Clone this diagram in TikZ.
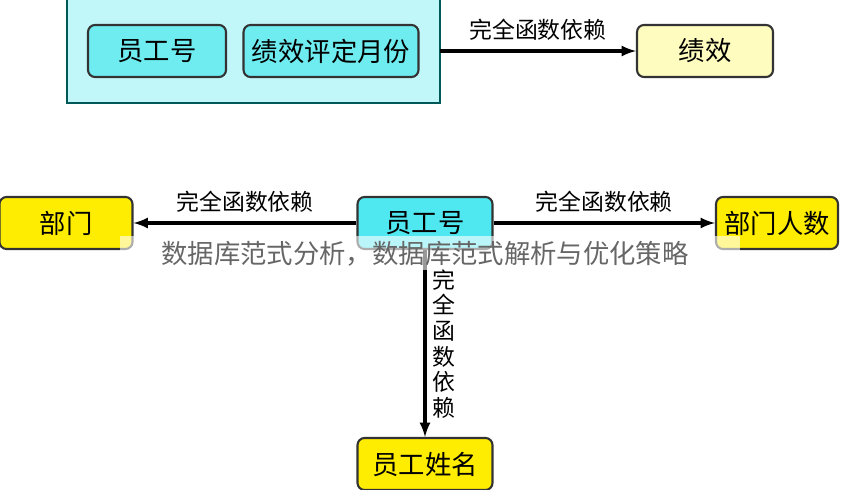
\documentclass[tikz,border=0pt]{standalone}
\usepackage{fontspec}
\setmainfont{Noto Sans CJK SC}
\usetikzlibrary{positioning}
\definecolor{keycyan}{RGB}{80,232,240}
\definecolor{keylight}{RGB}{110,236,240}

\begin{document}
\begin{tikzpicture}[x=0.02cm,y=-0.02cm,
  attrbox/.style={draw=black!80,line width=1.2pt,rounded corners=4pt,
    minimum height=1.04cm,inner sep=2pt,font=\fontsize{15}{18}\selectfont},
  keybox/.style={attrbox,fill=keycyan},
  depbox/.style={attrbox,fill=yellow!95!orange},
  deparrow/.style={-latex,line width=1.8pt},
  deplabel/.style={font=\fontsize{13}{16}\selectfont}]
\useasboundingbox (0,0) rectangle (849,490);
% Top: composite key
\draw[draw=teal!70!black,line width=1.5pt,fill=keycyan!35!white] (67,-10) rectangle (440,103);
\node[keybox,fill=keylight,minimum width=2.76cm] (empno) at (157,51) {员工号};
\node[keybox,fill=keylight,minimum width=3.5cm] (month) at (331,51) {绩效评定月份};
\coordinate (group) at (440,51);
\node[depbox,fill=yellow!25!white,minimum width=2.72cm] (perf) at (705,51) {绩效};
\draw[deparrow] (group) -- node[above,deplabel,yshift=2pt] {完全函数依赖} (perf);
% Bottom: single key
\node[keybox,minimum width=2.7cm] (emp) at (425,223) {员工号};
\node[depbox,minimum width=2.66cm] (dept) at (66,223) {部门};
\node[depbox,minimum width=2.44cm] (count) at (777,223) {部门人数};
\node[depbox,minimum width=2.7cm] (name) at (425,464) {员工姓名};
\draw[deparrow] (emp) -- node[above,deplabel,yshift=2pt] {完全函数依赖} (dept);
\draw[deparrow] (emp) -- node[above,deplabel,yshift=2pt] {完全函数依赖} (count);
\draw[deparrow] (emp) -- node[right,pos=0.5,align=center,text width=1em,
  font=\fontsize{13}{14.6}\selectfont] {完\\全\\函\\数\\依\\赖} (name);
% Watermark
\fill[white,opacity=0.6] (120,236) rectangle (740,270);
\node[text=black!60,font=\fontsize{15}{18}\selectfont] (mark) at (425,254)
  {数据库范式分析，数据库范式解析与优化策略};
\end{tikzpicture}
\end{document}
